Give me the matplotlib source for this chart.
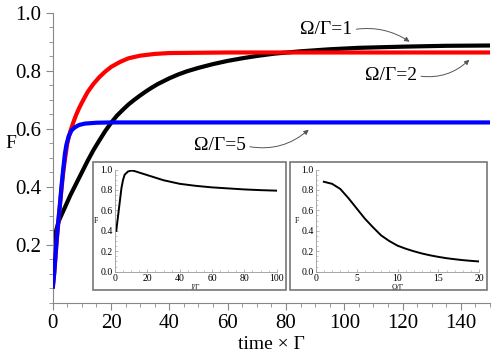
import matplotlib
matplotlib.use("Agg")
import matplotlib.pyplot as plt
from matplotlib.patches import Rectangle
from matplotlib.ticker import MultipleLocator

plt.rcParams['font.family'] = ['Liberation Serif', 'DejaVu Serif']

# ---- main panel data (time x Gamma, F) ----
t_black = [0, 0.3, 0.7, 1.2, 2, 3, 4, 6, 8, 10, 12, 14, 16, 18, 20, 22, 24, 26, 28,
           30, 32, 34, 36, 38, 40, 43, 46, 50, 55, 60, 65, 70, 76, 85, 95, 105, 120,
           135, 150]
F_black = [0.05, 0.14, 0.21, 0.25, 0.28, 0.303, 0.325, 0.37, 0.41, 0.45, 0.49, 0.527,
           0.56, 0.592, 0.62, 0.645, 0.665, 0.684, 0.70, 0.715, 0.729, 0.742, 0.754,
           0.764, 0.774, 0.787, 0.798, 0.81, 0.823, 0.834, 0.843, 0.851, 0.859, 0.867,
           0.874, 0.879, 0.883, 0.886, 0.887]

t_red = [0, 0.5, 1, 1.5, 2, 2.5, 3, 3.5, 4, 4.5, 5, 6, 7, 8, 9, 10, 12, 14, 16, 18,
         20, 23, 26, 30, 35, 40, 50, 60, 80, 100, 150]
F_red = [0.05, 0.10, 0.165, 0.23, 0.285, 0.34, 0.39, 0.44, 0.48, 0.515, 0.55, 0.59,
         0.62, 0.647, 0.67, 0.69, 0.727, 0.755, 0.778, 0.797, 0.813, 0.83, 0.843,
         0.852, 0.858, 0.861, 0.862, 0.863, 0.863, 0.863, 0.863]

t_blue = [0, 0.5, 0.8, 1.3, 2, 2.5, 3, 3.6, 4.2, 4.7, 5.5, 6.5, 7.6, 9, 11, 15, 20,
          40, 80, 150]
F_blue = [0.05, 0.10, 0.14, 0.21, 0.29, 0.34, 0.40, 0.46, 0.515, 0.545, 0.575, 0.595,
          0.605, 0.613, 0.618, 0.621, 0.622, 0.622, 0.622, 0.622]

labels = ["Ω/Γ=1", "Ω/Γ=2", "Ω/Γ=5"]
label_xy = [(93.8, 0.941), (116.0, 0.783), (57.3, 0.541)]
arrow_tip = [(122.4, 0.90), (142.9, 0.838), (87.8, 0.597)]
arrow_rad = [-0.2, 0.25, 0.25]

# ---- inset data ----
J_left = [0.8, 1, 2, 3, 4, 5, 6, 8, 10, 12, 15, 20, 25, 30, 40, 50, 60, 70, 80, 90, 100]
F_left = [0.40, 0.43, 0.56, 0.69, 0.82, 0.90, 0.95, 0.98, 0.99, 0.985, 0.97, 0.945,
          0.92, 0.895, 0.86, 0.84, 0.825, 0.815, 0.805, 0.798, 0.793]

W_right = [1, 2, 3, 4, 5, 6, 7, 8, 9, 10, 11, 12, 13, 14, 15, 16, 17, 18, 19, 20]
F_right = [0.88, 0.86, 0.81, 0.72, 0.62, 0.52, 0.435, 0.355, 0.30, 0.255, 0.225, 0.20,
           0.178, 0.16, 0.145, 0.132, 0.122, 0.113, 0.106, 0.10]

fig = plt.figure(figsize=(4.98, 3.56), dpi=100)
ax = fig.add_axes([0.1058, 0.1489, 0.984 - 0.1058, 0.9643 - 0.1489])

ax.plot(t_black, F_black, color='black', lw=3.0, solid_capstyle='butt', zorder=2)
ax.plot(t_red, F_red, color='#ff0000', lw=3.0, solid_capstyle='butt', zorder=3)
ax.plot(t_blue, F_blue, color='#0000ff', lw=3.0, solid_capstyle='butt', zorder=4)

ax.set_xlim(0, 150)
ax.set_ylim(0, 1.0)
for s in ['top', 'right']:
    ax.spines[s].set_visible(False)
for s in ['left', 'bottom']:
    ax.spines[s].set_color('#888888')
    ax.spines[s].set_linewidth(0.8)
ax.xaxis.set_major_locator(MultipleLocator(20))
ax.xaxis.set_minor_locator(MultipleLocator(5))
ax.yaxis.set_minor_locator(MultipleLocator(0.05))
ax.set_yticks([0.2, 0.4, 0.6, 0.8, 1.0])
ax.set_yticklabels(['0.2', '0.4', '0.6', '0.8', '1.0'])
ax.tick_params(which='major', length=5, width=0.8, color='#888888', labelsize=15, pad=3)
ax.tick_params(which='minor', length=3, width=0.6, color='#888888')

ax.set_xlabel('time × Γ', fontsize=14, labelpad=2)
fig.text(5 / 498, 1 - 143 / 356, 'F', fontsize=14, ha='left', va='center')

for lab, xy, tip, rad in zip(labels, label_xy, arrow_tip, arrow_rad):
    ax.annotate(lab, xy=tip, xytext=xy, fontsize=14, ha='center', va='center',
                arrowprops=dict(arrowstyle='-|>', color='#555555', lw=0.7,
                                mutation_scale=7, relpos=(1.0, 0.5),
                                shrinkA=1, shrinkB=0,
                                connectionstyle='arc3,rad=%s' % rad))

# inset boxes
for x0, x1 in [(92.7, 286.0), (290.0, 487.3)]:
    fig.patches.append(Rectangle((x0 / 498, 1 - 290 / 356), (x1 - x0) / 498,
                                 (290 - 161.7) / 356, transform=fig.transFigure,
                                 fill=False, edgecolor='#777777', lw=1.2))


def style_inset(a):
    for s in ['top', 'right']:
        a.spines[s].set_visible(False)
    for s in ['left', 'bottom']:
        a.spines[s].set_color('#999999')
        a.spines[s].set_linewidth(0.6)
    a.tick_params(which='major', direction='in', length=2.5, width=0.5,
                  color='#999999', labelsize=7, pad=1.5)
    a.tick_params(which='minor', direction='in', length=1.5, width=0.4, color='#999999')
    a.set_ylim(0, 1.0)
    a.yaxis.set_minor_locator(MultipleLocator(0.05))
    a.set_yticks([0, 0.2, 0.4, 0.6, 0.8, 1.0])
    a.set_yticklabels(['0.0', '0.2', '0.4', '0.6', '0.8', '1.0'])
    a.patch.set_alpha(0)


in_b = 1 - 271.7 / 356
in_h = (271.7 - 169.5) / 356
ax1 = fig.add_axes([115 / 498, in_b, (276.7 - 115) / 498, in_h])
ax1.plot(J_left, F_left, color='black', lw=1.4)
style_inset(ax1)
ax1.set_xlim(0, 100)
ax1.xaxis.set_major_locator(MultipleLocator(20))
ax1.xaxis.set_minor_locator(MultipleLocator(5))
ax1.set_xlabel('J/Γ', fontsize=5.5, labelpad=1)
ax1.set_ylabel('F', fontsize=5.5, labelpad=3, rotation=0, va='center')

ax2 = fig.add_axes([315.7 / 498, in_b, (479.3 - 315.7) / 498, in_h])
ax2.plot(W_right, F_right, color='black', lw=1.4)
style_inset(ax2)
ax2.set_xlim(0, 20)
ax2.xaxis.set_major_locator(MultipleLocator(5))
ax2.xaxis.set_minor_locator(MultipleLocator(1))
ax2.set_xlabel('Ω/Γ', fontsize=5.5, labelpad=1)
ax2.set_ylabel('F', fontsize=5.5, labelpad=3, rotation=0, va='center')

fig.savefig('out.png', dpi=100)
